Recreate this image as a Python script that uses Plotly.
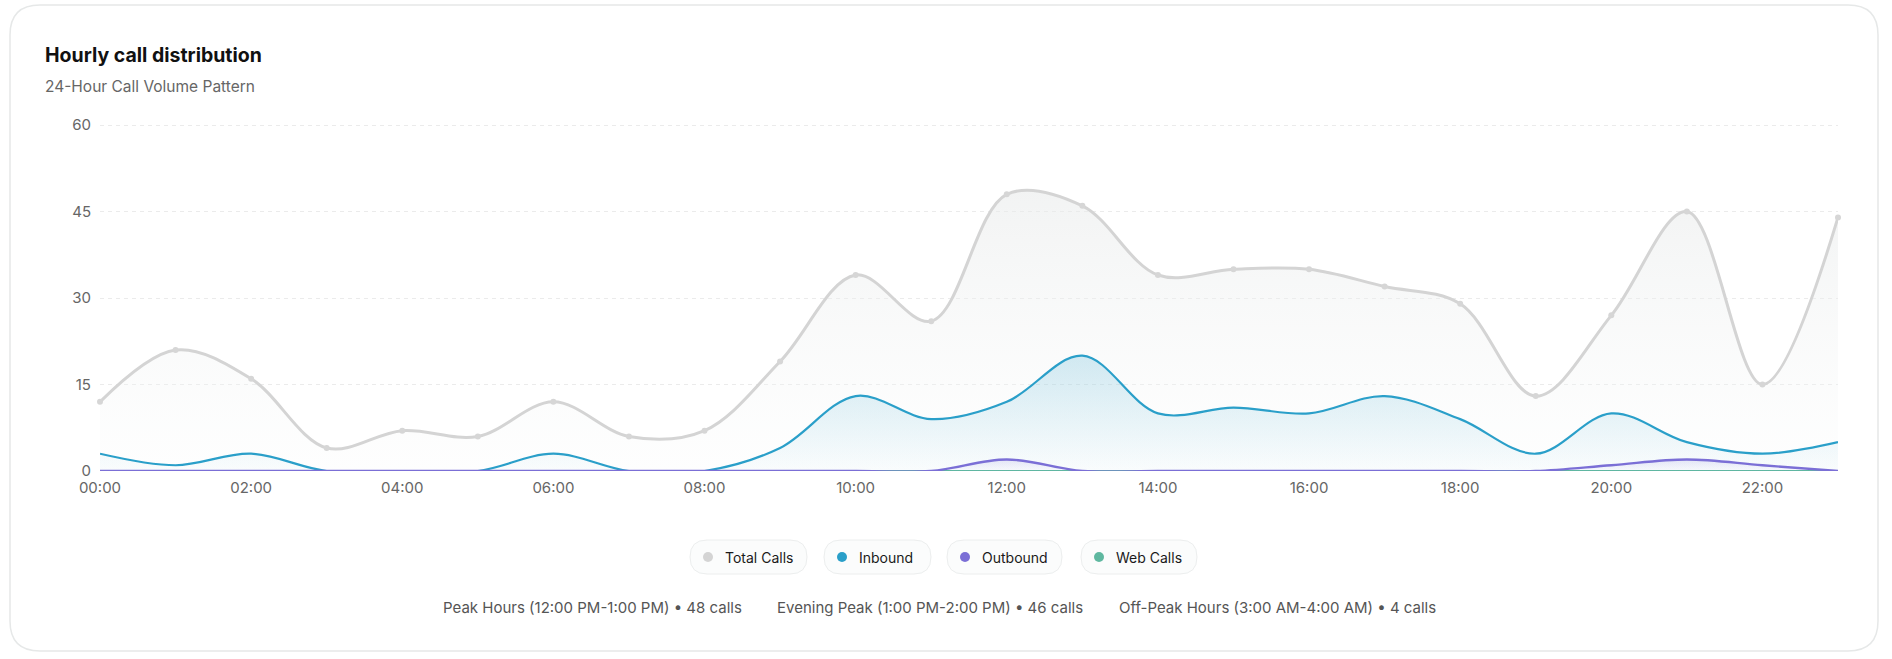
import plotly.graph_objects as go

# ---------------- data ----------------
hours = [f"{h:02d}:00" for h in range(24)]
total_calls = [12, 21, 16, 4, 7, 6, 12, 6, 7, 19, 34, 26, 48, 46, 34, 35, 35, 32, 29, 13, 27, 45, 15, 44]
inbound = [3, 1, 3, 0, 0, 0, 3, 0, 0, 4, 13, 9, 12, 20, 10, 11, 10, 13, 9, 3, 10, 5, 3, 5]
outbound = [0, 0, 0, 0, 0, 0, 0, 0, 0, 0, 0, 0, 2, 0, 0, 0, 0, 0, 0, 0, 1, 2, 1, 0]
web_calls = [0] * 24
y_ticks = [0, 15, 30, 45, 60]
x_tick_labels = hours[::2]

series_names = ["Total Calls", "Inbound", "Outbound", "Web Calls"]
series_colors = ["#d4d4d4", "#2a9fc9", "#7b6fd6", "#5fb8a0"]

footer_labels = ["Peak Hours (12:00 PM-1:00 PM)", "Evening Peak (1:00 PM-2:00 PM)", "Off-Peak Hours (3:00 AM-4:00 AM)"]
footer_hours = [12, 13, 3]

title = "Hourly call distribution"
subtitle = "24-Hour Call Volume Pattern"

# ---------------- layout geometry ----------------
W, H = 1892, 659
PL, PR, PT, PB = 100, 1838, 124, 471  # plot area in pixels
Y_MAX = 60.2


def px(x):
    return (x - PL) / (PR - PL)


def py(y):
    return (PB - y) / (PB - PT)


FONT = "Inter, 'Open Sans', sans-serif"

fig = go.Figure()

fig.add_trace(go.Scatter(
    x=hours, y=total_calls, name=series_names[0], mode="lines+markers",
    line=dict(color=series_colors[0], width=3, shape="spline", smoothing=1),
    marker=dict(size=6, color="#d6d6d6"),
    fill="tozeroy",
    fillgradient=dict(type="vertical", start=0, stop=max(total_calls),
                      colorscale=[[0, "rgba(246,248,248,0.15)"], [1, "rgba(232,234,234,0.55)"]]),
    cliponaxis=False, showlegend=False,
))
fig.add_trace(go.Scatter(
    x=hours, y=inbound, name=series_names[1], mode="lines",
    line=dict(color=series_colors[1], width=2.2, shape="spline", smoothing=1),
    fill="tozeroy",
    fillgradient=dict(type="vertical", start=0, stop=max(inbound),
                      colorscale=[[0, "rgba(42,159,201,0.02)"], [1, "rgba(42,159,201,0.20)"]]),
    cliponaxis=False, showlegend=False,
))
fig.add_trace(go.Scatter(
    x=hours, y=web_calls, name=series_names[3], mode="lines",
    line=dict(color=series_colors[3], width=2.2, shape="spline", smoothing=1),
    cliponaxis=False, showlegend=False,
))
fig.add_trace(go.Scatter(
    x=hours, y=outbound, name=series_names[2], mode="lines",
    line=dict(color=series_colors[2], width=2.4, shape="spline", smoothing=1),
    fill="tozeroy",
    fillgradient=dict(type="vertical", start=0, stop=max(outbound),
                      colorscale=[[0, "rgba(123,111,214,0.02)"], [1, "rgba(123,111,214,0.15)"]]),
    cliponaxis=False, showlegend=False,
))

shapes = []
annotations = []

# card
cl, cr, ct, cb, rad = 10, 1878, 5, 651, 30
rx = rad / (PR - PL)
ry = rad / (PB - PT)
L, R, T, B = px(cl), px(cr), py(ct), py(cb)
path = (f"M {L + rx},{T} L {R - rx},{T} Q {R},{T} {R},{T - ry} "
        f"L {R},{B + ry} Q {R},{B} {R - rx},{B} L {L + rx},{B} "
        f"Q {L},{B} {L},{B + ry} L {L},{T - ry} Q {L},{T} {L + rx},{T} Z")
shapes.append(dict(type="path", path=path, xref="paper", yref="paper",
                   line=dict(color="#e6e8e8", width=1.5), fillcolor="white", layer="below"))

# title / subtitle
annotations.append(dict(text=f"<b>{title}</b>", x=px(43), y=py(55), xref="paper", yref="paper",
                        xanchor="left", yanchor="middle", showarrow=False,
                        font=dict(family=FONT, size=19.5, color="#111111")))
annotations.append(dict(text=subtitle, x=px(43), y=py(87), xref="paper", yref="paper",
                        xanchor="left", yanchor="middle", showarrow=False,
                        font=dict(family=FONT, size=15.5, color="#666666")))

# custom legend pills
pills = [(690, 807), (824, 931), (947, 1062), (1081, 1197)]
pill_cy, pill_h = 557, 34
for (a, b), name, col in zip(pills, series_names, series_colors):
    r = pill_h / 2
    rxp = r / (PR - PL)
    ryp = r / (PB - PT)
    l_, r_ = px(a), px(b)
    t_, b_ = py(pill_cy - r), py(pill_cy + r)
    p = (f"M {l_ + rxp},{t_} L {r_ - rxp},{t_} Q {r_},{t_} {r_},{t_ - ryp} "
         f"L {r_},{b_ + ryp} Q {r_},{b_} {r_ - rxp},{b_} L {l_ + rxp},{b_} "
         f"Q {l_},{b_} {l_},{b_ + ryp} L {l_},{t_ - ryp} Q {l_},{t_} {l_ + rxp},{t_} Z")
    shapes.append(dict(type="path", path=p, xref="paper", yref="paper",
                       line=dict(color="#eceeee", width=1), fillcolor="#fbfcfc", layer="above"))
    dr = 5
    shapes.append(dict(type="circle", xref="paper", yref="paper",
                       x0=px(a + 18 - dr), x1=px(a + 18 + dr), y0=py(pill_cy + dr), y1=py(pill_cy - dr),
                       fillcolor=col, line=dict(width=0), layer="above"))
    annotations.append(dict(text=name, x=px(a + 33), y=py(pill_cy), xref="paper", yref="paper",
                            xanchor="left", yanchor="middle", showarrow=False,
                            font=dict(family=FONT, size=14, color="#1a1a1a")))

# footer
footer_x = [441, 775, 1117]
for lab, h, fx in zip(footer_labels, footer_hours, footer_x):
    annotations.append(dict(text=f"{lab} • {total_calls[h]} calls", x=px(fx), y=py(607),
                            xref="paper", yref="paper", xanchor="left", yanchor="middle",
                            showarrow=False, font=dict(family=FONT, size=15, color="#555555")))

fig.update_layout(
    width=W, height=H,
    margin=dict(l=PL, r=W - PR, t=PT, b=H - PB, pad=0),
    paper_bgcolor="white", plot_bgcolor="rgba(0,0,0,0)",
    font=dict(family=FONT, color="#666666"),
    shapes=shapes, annotations=annotations,
    showlegend=False, hovermode="x unified",
    xaxis=dict(type="category", categoryorder="array", categoryarray=hours,
               range=[0, len(hours) - 1], tickvals=x_tick_labels, ticktext=x_tick_labels,
               showgrid=False, zeroline=False, showline=False, ticks="",
               ticklabelstandoff=6,
               tickfont=dict(family=FONT, size=15, color="#666666")),
    yaxis=dict(range=[0, Y_MAX], tickvals=y_ticks, showgrid=True, gridcolor="#ebebeb",
               griddash="4px,4px", gridwidth=1, zeroline=False, showline=False, ticks="",
               ticklabelstandoff=8,
               tickfont=dict(family=FONT, size=15, color="#666666")),
)

fig.write_html("out.html")
